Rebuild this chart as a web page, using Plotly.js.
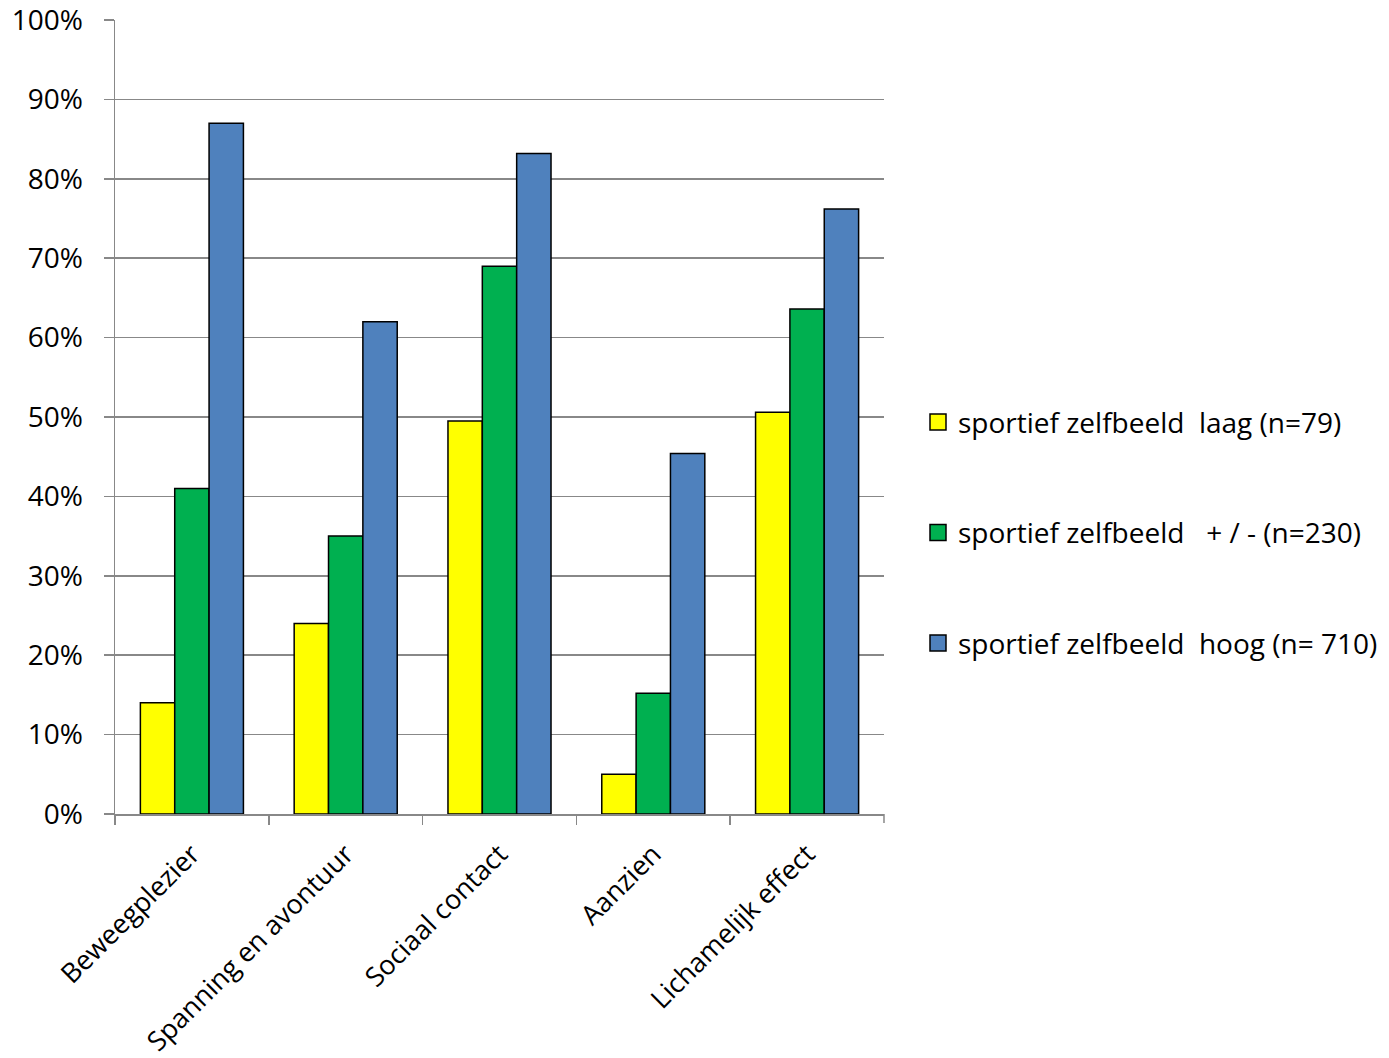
<!DOCTYPE html>
<html>
<head>
<meta charset="utf-8">
<script src="https://cdn.plot.ly/plotly-3.0.1.min.js"></script>
<style>
  html, body { margin: 0; padding: 0; background: #fff; }
  #chart { width: 1389px; height: 1058px; }
</style>
</head>
<body>
<div id="chart"></div>
<script>
// Motieven om te sporten, naar sportief zelfbeeld
const categories = ['Beweegplezier', 'Spanning en avontuur', 'Sociaal contact', 'Aanzien', 'Lichamelijk effect'];

const seriesNames = [
  'sportief zelfbeeld\u00a0\u00a0laag (n=79)',
  'sportief zelfbeeld\u00a0\u00a0\u00a0+ / - (n=230)',
  'sportief zelfbeeld\u00a0\u00a0hoog (n=\u00a0710)'
];

const laag = [0.14, 0.24, 0.495, 0.05, 0.506];
const midden = [0.41, 0.35, 0.69, 0.152, 0.636];
const hoog = [0.87, 0.62, 0.832, 0.454, 0.762];

const colors = ['#FFFF00', '#00B050', '#4F81BD'];
const values = [laag, midden, hoog];

const FONT = 'Open Sans, sans-serif';
const FS = 28;

// grouped bars (legend entries drawn by the square-marker companions below)
const bars = values.map((v, i) => ({
  type: 'bar',
  name: seriesNames[i],
  x: categories,
  y: v,
  showlegend: false,
  marker: { color: colors[i], line: { color: '#000', width: 1.5 } },
  hoverinfo: 'x+y'
}));

// legend keys: larger outlined squares per series
const keys = seriesNames.map((n, i) => ({
  type: 'scatter',
  mode: 'markers',
  name: n,
  x: [categories[0]],
  y: [null],
  legendgroup: 'g' + i,
  marker: { symbol: 'square', size: 16, color: colors[i], line: { color: '#000', width: 1.5 } },
  hoverinfo: 'skip'
}));

const layout = {
  width: 1389,
  height: 1058,
  margin: { l: 115, r: 0, t: 20, b: 244 },
  paper_bgcolor: '#fff',
  plot_bgcolor: '#fff',
  font: { family: FONT, size: FS, color: '#000' },
  barmode: 'group',
  bargap: 0.33,
  bargroupgap: 0,
  showlegend: true,
  legend: {
    x: 0.6303, xanchor: 'left',
    y: 0.354, yanchor: 'middle',
    font: { family: FONT, size: FS, color: '#000' },
    tracegroupgap: 71,
    itemwidth: 30,
    bgcolor: 'rgba(0,0,0,0)'
  },
  // closing category-boundary tick at the right end of the x axis
  shapes: [{
    type: 'line',
    xref: 'x domain', x0: 1, x1: 1,
    yref: 'paper', y0: 0, y1: -0.0113,
    line: { color: '#888', width: 1.5 }
  }],
  xaxis: {
    type: 'category',
    domain: [0, 0.6036],
    tickangle: -45,
    tickson: 'boundaries',
    ticks: 'outside',
    ticklen: 9,
    tickwidth: 1.5,
    tickcolor: '#888',
    ticklabelstandoff: 12,
    showgrid: false,
    showline: true,
    linecolor: '#888',
    linewidth: 1.5,
    tickfont: { family: FONT, size: 27, color: '#000' },
    fixedrange: true
  },
  yaxis: {
    range: [0, 1],
    dtick: 0.1,
    tickformat: '.0%',
    ticks: 'outside',
    ticklen: 10,
    tickwidth: 1.5,
    tickcolor: '#888',
    ticklabelstandoff: 15,
    ticklabeloverflow: 'allow',
    showgrid: true,
    gridcolor: '#888',
    gridwidth: 1.5,
    showline: true,
    linecolor: '#888',
    linewidth: 1.5,
    zeroline: false,
    tickfont: { family: FONT, size: FS, color: '#000' },
    fixedrange: true
  }
};

Plotly.newPlot('chart', bars.concat(keys), layout, { displayModeBar: false, staticPlot: true });
</script>
</body>
</html>
